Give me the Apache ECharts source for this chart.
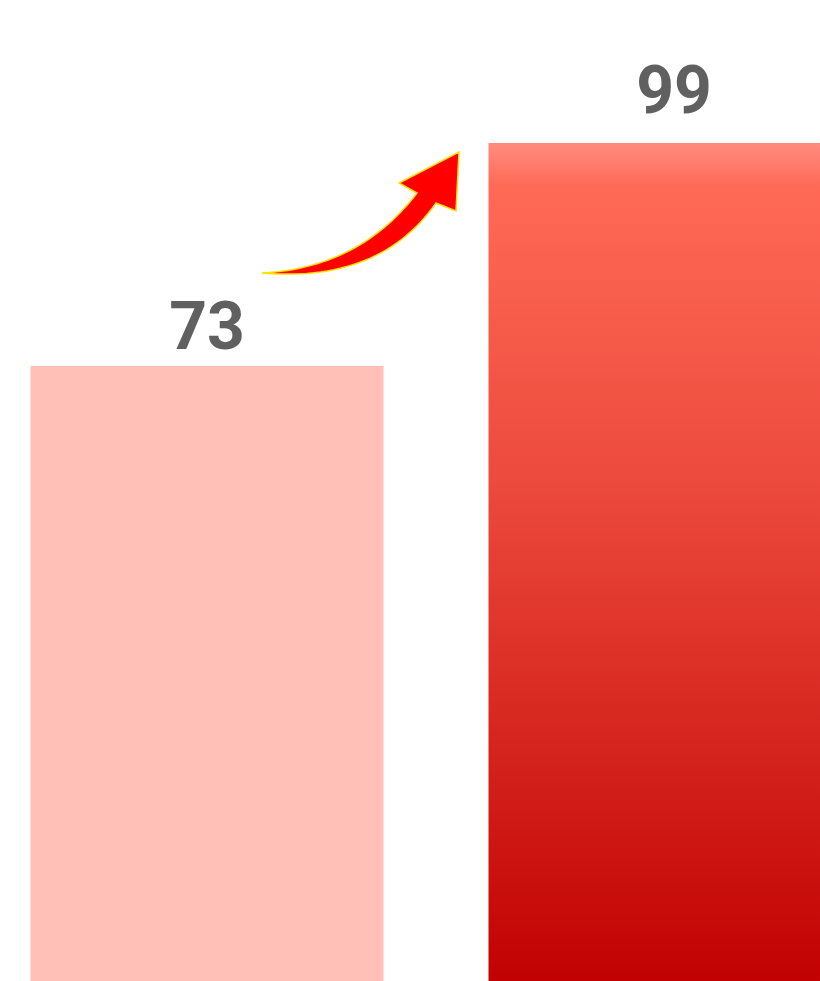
<!DOCTYPE html>
<html>
<head>
<meta charset="utf-8">
<script src="https://cdn.jsdelivr.net/npm/echarts@6/dist/echarts.min.js"></script>
<style>html,body{margin:0;padding:0;background:#fff}#c{width:820px;height:981px}</style>
</head>
<body>
<div id="c"></div>
<script>
var categories = ['A', 'B'];
var beforeValues = [73, '-'];
var afterValues = ['-', 99];

function quad(p0, c, p1, n) {
  var pts = [];
  for (var i = 0; i <= n; i++) {
    var t = i / n, u = 1 - t;
    pts.push([u * u * p0[0] + 2 * u * t * c[0] + t * t * p1[0], u * u * p0[1] + 2 * u * t * c[1] + t * t * p1[1]]);
  }
  return pts;
}
var arrowPts = quad([262, 273], [360, 268], [417, 193], 30)
  .concat([[399, 183], [459, 152], [456, 211]])
  .concat(quad([436, 203], [380, 283], [262, 273], 30));

var chart = echarts.init(document.getElementById('c'));
var labelFont = {fontSize: 66, fontWeight: 'bold', color: '#606060', fontFamily: 'Roboto'};
chart.setOption({
  animation: false,
  grid: {left: -26.5, width: 934, top: 143, bottom: -11, outerBoundsMode: 'none', containLabel: false},
  xAxis: [
    {type: 'category', data: categories, show: false},
    {type: 'category', data: categories, show: false}
  ],
  yAxis: {type: 'value', min: 0, max: 99, show: false},
  series: [
    {
      type: 'bar', xAxisIndex: 0, data: beforeValues, barWidth: 353,
      itemStyle: {color: '#FFC0B8'},
      label: Object.assign({show: true, position: 'top', distance: 0}, labelFont)
    },
    {
      type: 'bar', xAxisIndex: 1, data: afterValues, barWidth: 371,
      itemStyle: {color: {type: 'linear', x: 0, y: 0, x2: 0, y2: 1, colorStops: [
        {offset: 0, color: '#FF8C80'},
        {offset: 0.05, color: '#FF6A56'},
        {offset: 0.4, color: '#EC4A3C'},
        {offset: 1, color: '#C00000'}
      ]}},
      label: Object.assign({show: true, position: 'top', distance: 14}, labelFont)
    }
  ],
  graphic: [{
    type: 'polygon',
    shape: {points: arrowPts},
    style: {fill: '#FF0000', stroke: '#FFE000', lineWidth: 1.5}
  }]
});
</script>
</body>
</html>
